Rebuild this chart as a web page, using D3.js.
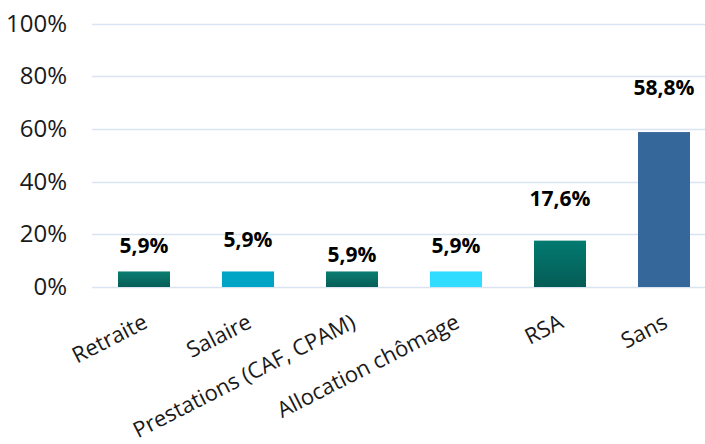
<!DOCTYPE html>
<html>
<head>
<meta charset="utf-8">
<script src="https://cdn.jsdelivr.net/npm/d3@7"></script>
<style>
  body { margin: 0; background: #fff; }
  text { font-family: "Open Sans", "Noto Sans", sans-serif; }
</style>
</head>
<body>
<svg id="chart" width="705" height="444"></svg>
<script>
// data
var categories = ["Retraite", "Salaire", "Prestations (CAF, CPAM)", "Allocation chômage", "RSA", "Sans"];
var values = [5.9, 5.9, 5.9, 5.9, 17.6, 58.8];
var yTicks = [0, 20, 40, 60, 80, 100];

// colours per bar (top, bottom of the soft gradient)
var barTop = ["#0a7d72", "#00a5c6", "#0a7d72", "#30dcff", "#037a70", "#35679a"];
var barBottom = ["#075e58", "#00a5c6", "#075e58", "#30dcff", "#045c56", "#35679a"];
// the value labels sit at uneven heights in the original
var labelLift = [18, 24, 9, 18, 35, 37];

var svg = d3.select("#chart");

var x = d3.scaleBand()
  .domain(categories)
  .range([92, 716])
  .paddingInner(0.5)
  .paddingOuter(0.25);

var y = d3.scaleLinear()
  .domain([0, 100])
  .range([287, 23.5]);

// gradients
var defs = svg.append("defs");
categories.forEach(function(c, i) {
  var g = defs.append("linearGradient")
    .attr("id", "grad" + i)
    .attr("x1", 0).attr("y1", 0).attr("x2", 0).attr("y2", 1);
  g.append("stop").attr("offset", "0%").attr("stop-color", barTop[i]);
  g.append("stop").attr("offset", "100%").attr("stop-color", barBottom[i]);
});

// gridlines
svg.append("g")
  .selectAll("line")
  .data(yTicks)
  .enter()
  .append("line")
  .attr("x1", 92)
  .attr("x2", 705)
  .attr("y1", function(d) { return Math.round(y(d)) + 0.5; })
  .attr("y2", function(d) { return Math.round(y(d)) + 0.5; })
  .attr("stroke", "#d9e4f2")
  .attr("stroke-width", 1.5);

// y axis labels
var yAxis = svg.append("g")
  .attr("transform", "translate(67,0)")
  .call(d3.axisLeft(y).tickValues(yTicks).tickSize(0).tickPadding(0)
    .tickFormat(function(d) { return d + "%"; }));
yAxis.select(".domain").remove();
yAxis.selectAll("text")
  .attr("font-size", "24px")
  .attr("fill", "#1a1a1a")
  .style("font-family", "\"Open Sans\", sans-serif");

// bars
svg.append("g")
  .selectAll("rect")
  .data(values)
  .enter()
  .append("rect")
  .attr("x", function(d, i) { return x(categories[i]); })
  .attr("width", x.bandwidth())
  .attr("y", function(d) { return y(d); })
  .attr("height", function(d) { return y(0) - y(d); })
  .attr("fill", function(d, i) { return "url(#grad" + i + ")"; });

// value labels
svg.append("g")
  .selectAll("text")
  .data(values)
  .enter()
  .append("text")
  .attr("x", function(d, i) { return x(categories[i]) + x.bandwidth() / 2; })
  .attr("y", function(d, i) { return y(d) - labelLift[i]; })
  .attr("text-anchor", "middle")
  .attr("font-size", "21px")
  .attr("font-weight", "bold")
  .attr("fill", "#000")
  .text(function(d) { return d.toFixed(1).replace(".", ",") + "%"; });

// x axis labels, slanted
var xAxis = svg.append("g")
  .attr("transform", "translate(0,287)")
  .call(d3.axisBottom(x).tickSize(0).tickPadding(0));
xAxis.select(".domain").remove();
xAxis.selectAll("text")
  .attr("font-size", "22px")
  .attr("fill", "#1a1a1a")
  .attr("text-anchor", "end")
  .attr("dy", 0)
  .attr("transform", "translate(5,40) rotate(-27)")
  .style("font-family", "\"Open Sans\", sans-serif");
</script>
</body>
</html>
